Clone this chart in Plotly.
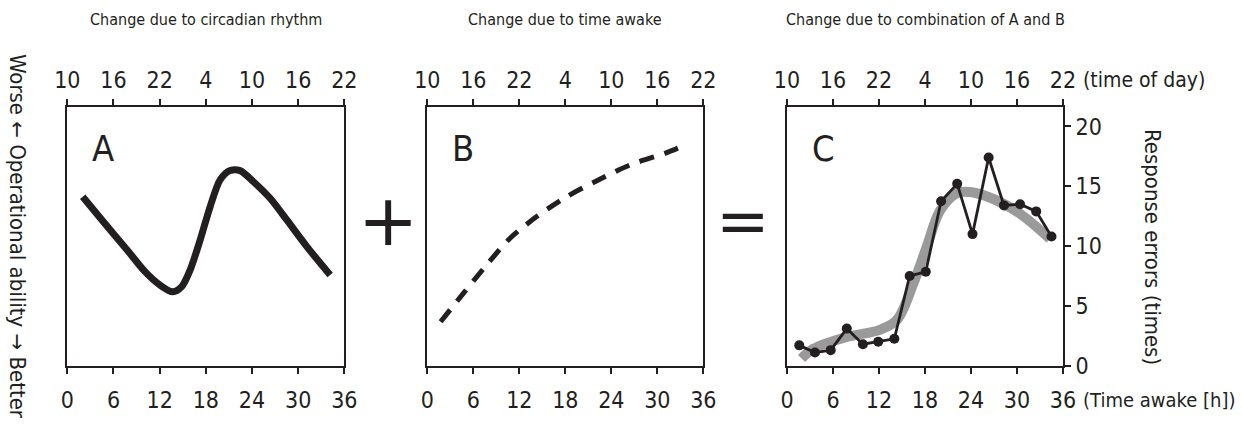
import plotly.graph_objects as go

# ---------------- data ----------------
awake_ticks = [0, 6, 12, 18, 24, 30, 36]
time_of_day_labels = ["10", "16", "22", "4", "10", "16", "22"]

# Panel A: circadian rhythm (relative operational ability)
circ_hours = [2.0, 4.69, 7.72, 10.1, 12.05, 13.7, 14.87, 15.96, 17.26, 18.56,
              19.86, 21.16, 22.46, 24.19, 26.36, 28.53, 31.13, 34.16]
circ_level = [65.4, 55.7, 45.0, 36.4, 31.2, 28.6, 30.6, 37.0, 48.6, 61.5,
              71.9, 75.5, 75.5, 71.2, 64.8, 56.4, 46.1, 35.1]

# Panel B: time awake
awake_hours_b = [1.74, 4.70, 7.74, 10.79, 14.27, 18.18, 22.31, 26.44, 31.0, 33.18]
awake_level_b = [17.0, 28.0, 39.0, 49.3, 57.7, 65.4, 71.9, 77.7, 82.2, 84.8]

# Panel C: observed response errors
err_hours = [1.6, 3.65, 5.7, 7.8, 9.9, 11.9, 14.0, 16.0, 18.1, 20.1, 22.2,
             24.2, 26.3, 28.3, 30.4, 32.5, 34.5]
err_counts = [1.7, 1.1, 1.3, 3.1, 1.8, 2.0, 2.25, 7.5, 7.85, 13.75, 15.2,
              11.0, 17.4, 13.4, 13.5, 12.9, 10.8]

# Panel C: smooth fit (grey band)
fit_hours = [1.9, 3.4, 7.8, 12.1, 14.3, 16.5, 18.2, 20.0, 22.1, 24.1, 27.4, 30.4, 34.3]
fit_counts = [0.6, 1.4, 2.4, 3.0, 3.8, 6.9, 9.9, 13.0, 14.4, 14.5, 13.8, 12.7, 10.6]

err_ticks = [0, 5, 10, 15, 20]

titles = ["Change due to circadian rhythm", "Change due to time awake",
          "Change due to combination of A and B"]
panel_letters = ["A", "B", "C"]

# ---------------- style ----------------
FONT = "Liberation Sans Narrow, DejaVu Sans Condensed, sans-serif"
INK = "#231f20"
GREY = "#9a9a9a"
W, H = 1242, 430

x_domains = [[67.3 / W, 344.3 / W], [427.3 / W, 703.3 / W], [787.0 / W, 1063.0 / W]]
y_domain = [(H - 365.7) / H, (H - 107.3) / H]

fig = go.Figure()

fig.add_trace(go.Scatter(x=circ_hours, y=circ_level, mode="lines",
                         line=dict(color=INK, width=7, shape="spline", smoothing=0.8),
                         xaxis="x", yaxis="y", showlegend=False, hoverinfo="skip"))
fig.add_trace(go.Scatter(x=awake_hours_b, y=awake_level_b, mode="lines",
                         line=dict(color=INK, width=5, dash="15px,11px", shape="spline", smoothing=0.8),
                         xaxis="x2", yaxis="y2", showlegend=False, hoverinfo="skip"))
fig.add_trace(go.Scatter(x=fit_hours, y=fit_counts, mode="lines",
                         line=dict(color=GREY, width=10, shape="spline", smoothing=1.0),
                         xaxis="x3", yaxis="y3", showlegend=False, hoverinfo="skip"))
fig.add_trace(go.Scatter(x=err_hours, y=err_counts, mode="lines+markers",
                         line=dict(color=INK, width=2.8),
                         marker=dict(color=INK, size=10),
                         xaxis="x3", yaxis="y3", showlegend=False, hoverinfo="skip"))

tickfont = dict(family=FONT, size=23, color=INK)
common_x = dict(range=[0, 36], tickmode="array", tickvals=awake_ticks,
                showline=True, linecolor=INK, linewidth=2, ticks="outside",
                ticklen=6, tickwidth=2, tickcolor=INK, showgrid=False,
                zeroline=False, tickfont=tickfont, fixedrange=True, automargin=False)

layout = dict(width=W, height=H, margin=dict(l=0, r=0, t=0, b=0, autoexpand=False),
              paper_bgcolor="white", plot_bgcolor="white",
              font=dict(family=FONT, color=INK))

for i in range(3):
    sx = "" if i == 0 else str(i + 1)
    ylab = "y" + sx
    layout["xaxis" + sx] = dict(common_x, domain=x_domains[i], anchor=ylab,
                                ticktext=[str(v) for v in awake_ticks], side="bottom",
                                ticklabelstandoff=7)
    # top time-of-day axis
    layout["xaxis" + str(i + 4)] = dict(common_x, domain=x_domains[i], anchor=ylab,
                                        overlaying="x" + sx, side="top",
                                        ticktext=time_of_day_labels, ticklabelstandoff=2)
    if i < 2:
        layout["yaxis" + sx] = dict(domain=y_domain, anchor="x" + sx, range=[0, 100],
                                    showline=True, mirror=True, linecolor=INK, linewidth=2,
                                    showticklabels=False, ticks="", showgrid=False,
                                    zeroline=False, fixedrange=True, automargin=False)
    else:
        layout["yaxis" + sx] = dict(domain=y_domain, anchor="x" + sx, range=[0, 21.6],
                                    side="right", showline=True, mirror=True,
                                    linecolor=INK, linewidth=2, tickmode="array",
                                    tickvals=err_ticks, ticks="outside", ticklen=6,
                                    tickwidth=2, tickcolor=INK, tickfont=tickfont,
                                    showgrid=False, zeroline=False, fixedrange=True,
                                    automargin=False)

fig.update_layout(**layout)

# invisible traces so the top axes are drawn
for i in range(3):
    sx = "" if i == 0 else str(i + 1)
    fig.add_trace(go.Scatter(x=awake_ticks, y=[None] * len(awake_ticks), mode="lines",
                             xaxis="x" + str(i + 4), yaxis="y" + sx,
                             showlegend=False, hoverinfo="skip"))

ann = []
for i in range(3):
    cx = (x_domains[i][0] + x_domains[i][1]) / 2
    ann.append(dict(text=titles[i], x=cx, y=1 - 20 / H, xref="paper", yref="paper",
                    showarrow=False, xanchor="center", yanchor="middle",
                    font=dict(family=FONT, size=16, color=INK)))
    ann.append(dict(text=panel_letters[i], x=x_domains[i][0] + 36 / W, y=1 - 148 / H,
                    xref="paper", yref="paper", showarrow=False,
                    xanchor="center", yanchor="middle",
                    font=dict(family=FONT, size=36, color=INK)))

# operators
ann.append(dict(text="+", x=388 / W, y=1 - 220 / H, xref="paper", yref="paper",
                showarrow=False, xanchor="center", yanchor="middle",
                font=dict(family="DejaVu Sans", size=72, color=INK)))
ann.append(dict(text="=", x=743 / W, y=1 - 221 / H, xref="paper", yref="paper",
                showarrow=False, xanchor="center", yanchor="middle",
                font=dict(family="DejaVu Sans", size=64, color=INK)))

# axis titles
ann.append(dict(text="Worse \u2190 Operational ability \u2192 Better", x=18 / W, y=1 - 236 / H,
                xref="paper", yref="paper", showarrow=False, textangle=90,
                xanchor="center", yanchor="middle",
                font=dict(family=FONT, size=22, color=INK)))
ann.append(dict(text="Response errors (times)", x=1153 / W, y=1 - 247 / H,
                xref="paper", yref="paper", showarrow=False, textangle=90,
                xanchor="center", yanchor="middle",
                font=dict(family=FONT, size=22, color=INK)))
ann.append(dict(text="(time of day)", x=1081 / W, y=1 - 80 / H,
                xref="paper", yref="paper", showarrow=False,
                xanchor="left", yanchor="middle",
                font=dict(family=FONT, size=21, color=INK)))
ann.append(dict(text="(Time awake [h])", x=1081 / W, y=1 - 400 / H,
                xref="paper", yref="paper", showarrow=False,
                xanchor="left", yanchor="middle",
                font=dict(family=FONT, size=20, color=INK)))

fig.update_layout(annotations=ann)
fig.write_html("out.html")
